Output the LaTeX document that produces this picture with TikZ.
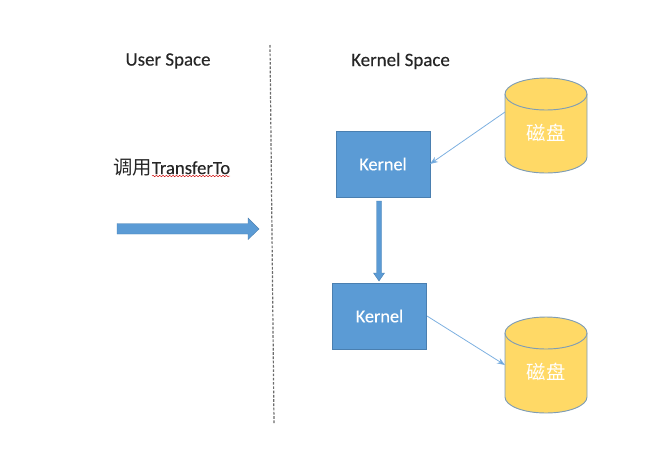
\documentclass[tikz,border=0pt]{standalone}
\usepackage{fontspec}
\setmainfont{Carlito}[FakeBold=0.25]
\newfontfamily\cjk{Noto Sans CJK SC}
\usetikzlibrary{arrows.meta,decorations.pathmorphing}
\definecolor{boxblue}{HTML}{5B9BD5}
\definecolor{boxedge}{HTML}{4A7FB0}
\definecolor{diskfill}{HTML}{FFD966}
\definecolor{diskedge}{HTML}{7F9DB5}
\definecolor{thinblue}{HTML}{7DB0E0}
\definecolor{txt}{HTML}{262626}
\tikzset{
  kernelbox/.style={draw=boxedge,fill=boxblue,line width=0.6pt,minimum width=70.5pt,minimum height=49.5pt,inner sep=0pt,text=white,font=\fontsize{13.7}{15}\selectfont},
  disklabel/.style={text=white,inner sep=0pt,font=\cjk\fontsize{14.5}{16}\selectfont},
  headlabel/.style={text=txt,inner sep=0pt,font=\fontsize{14.2}{16}\selectfont},
  diskside/.style={draw=diskedge,fill=diskfill,line width=0.7pt},
  thinarrow/.style={draw=thinblue,line width=0.6pt,-{Stealth[length=6pt,width=4.5pt,fill=boxblue]}},
  blockarrow/.style={fill=boxblue,draw=boxedge,line width=0.3pt},
}
\begin{document}
\begin{tikzpicture}[x=0.75pt,y=-0.75pt]
\useasboundingbox (0,0) rectangle (653,458);
% divider
\coordinate (divtop) at (270,45);
\coordinate (divbot) at (274,423);
\draw[draw=gray!85!black,line width=0.9pt,dash pattern=on 2pt off 1.2pt] (divtop) -- (divbot);
% headings
\node[headlabel] (user) at (168,61) {User Space};
\node[headlabel] (kspace) at (400.5,61) {Kernel Space};
% call label
\node[inner sep=0pt,text=txt,anchor=west] (call) at (113,167) {\cjk\fontsize{14.5}{16}\selectfont 调用\normalfont\fontsize{14}{16}\selectfont TransferTo};
\draw[red!80!black,line width=0.35pt,decorate,decoration={snake,amplitude=0.5pt,segment length=2.5pt}] (152,176) -- (230,176);
% block arrow right
\path[blockarrow] (117,223.5) -- (248,223.5) -- (248,218) -- (259,229) -- (248,239.5) -- (248,234) -- (117,234) -- cycle;
% kernels
\node[kernelbox] (k1) at (383,164) {Kernel};
\node[kernelbox] (k2) at (379.5,316) {Kernel};
% block arrow down
\path[blockarrow] (376.5,201) -- (381.5,201) -- (381.5,273) -- (384.5,273) -- (379,281) -- (373.5,273) -- (376.5,273) -- cycle;
% disk 1
\path[diskside] (505,94) -- (505,157) arc[start angle=180,end angle=0,x radius=41,y radius=16] -- (587,94) arc[start angle=0,end angle=-180,x radius=41,y radius=16] -- cycle;
\draw[diskside,fill=none] (505,94) arc[start angle=180,end angle=0,x radius=41,y radius=16];
\node[disklabel] (d1) at (546,133) {磁盘};
% disk 2
\path[diskside] (505,333) -- (505,397) arc[start angle=180,end angle=0,x radius=41,y radius=16] -- (587,333) arc[start angle=0,end angle=-180,x radius=41,y radius=16] -- cycle;
\draw[diskside,fill=none] (505,333) arc[start angle=180,end angle=0,x radius=41,y radius=16];
\node[disklabel] (d2) at (546,372) {磁盘};
% connectors
\coordinate (d1w) at (505,112);
\coordinate (d2w) at (505,365);
\coordinate (k1e) at (430,164);
\coordinate (k2e) at (427,316);
\draw[thinarrow] (d1w) -- (k1e);
\draw[thinarrow] (k2e) -- (d2w);
\end{tikzpicture}
\end{document}
